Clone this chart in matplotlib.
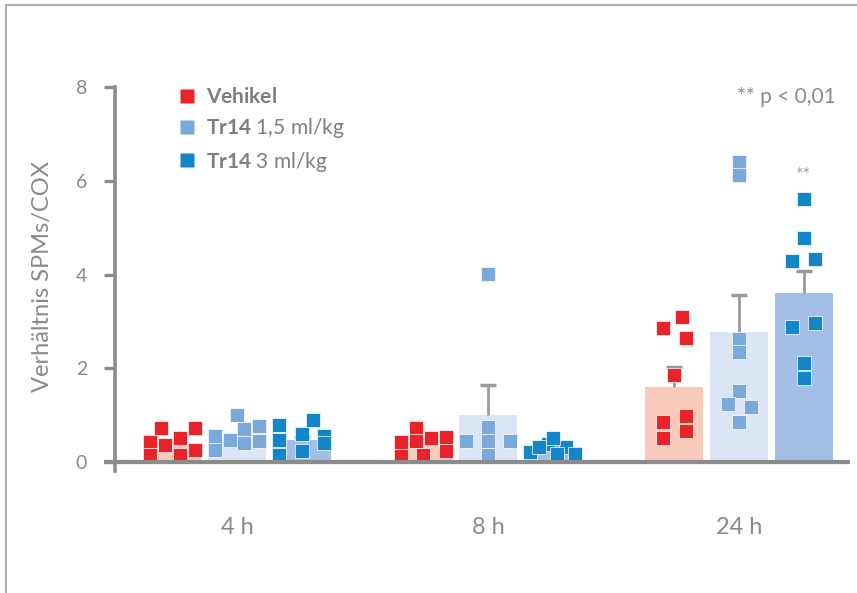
import matplotlib
matplotlib.use("Agg")
import matplotlib.pyplot as plt
import numpy as np
from matplotlib.lines import Line2D

plt.rcParams['font.family'] = ['Lato', 'DejaVu Sans']
plt.rcParams['mathtext.fontset'] = 'custom'
plt.rcParams['mathtext.rm'] = 'Lato'
plt.rcParams['mathtext.bf'] = 'Lato:bold'

# ---------------- data ----------------
timepoints = ["4 h", "8 h", "24 h"]
series_names = ["Vehikel", "Tr14 1,5 ml/kg", "Tr14 3 ml/kg"]
legend_labels = [r"$\bf{Vehikel}$", r"$\bf{Tr14}$ 1,5 ml/kg", r"$\bf{Tr14}$ 3 ml/kg"]

means_vehikel = [0.37, 0.46, 1.60]
means_tr14_15 = [0.49, 1.00, 2.77]
means_tr14_3 = [0.47, 0.32, 3.60]

sem_vehikel = [0.06, 0.06, 0.43]
sem_tr14_15 = [0.08, 0.64, 0.79]
sem_tr14_3 = [0.07, 0.05, 0.47]

pts_vehikel = [
    [0.72, 0.42, 0.14, 0.36, 0.51, 0.14, 0.72, 0.26],
    [0.72, 0.43, 0.12, 0.44, 0.51, 0.16, 0.53, 0.23],
    [2.86, 3.09, 2.64, 1.85, 0.85, 0.51, 0.98, 0.66],
]
pts_tr14_15 = [
    [0.55, 0.26, 1.00, 0.47, 0.70, 0.40, 0.76, 0.45],
    [4.01, 0.44, 0.75, 0.44, 0.14, 0.44],
    [6.40, 6.12, 2.62, 2.34, 1.51, 1.24, 1.17, 0.85],
]
pts_tr14_3 = [
    [0.78, 0.47, 0.14, 0.89, 0.59, 0.55, 0.24, 0.40],
    [0.22, 0.39, 0.31, 0.52, 0.33, 0.18, 0.18],
    [5.61, 4.78, 4.29, 4.33, 2.88, 2.96, 2.11, 1.79],
]

yticks = [0, 2, 4, 6, 8]
ylabel = "Verhältnis SPMs/COX"
p_note = "** p < 0,01"
sig_mark = "**"

means = [means_vehikel, means_tr14_15, means_tr14_3]
sems = [sem_vehikel, sem_tr14_15, sem_tr14_3]
points = [pts_vehikel, pts_tr14_15, pts_tr14_3]

# ---------------- style ----------------
dot_colors = ["#E8232A", "#79A8DB", "#1386CA"]
bar_colors = ["#F8CABA", "#DCE5F5", "#A4BFE5"]
gray = "#8C8C8C"
text_gray = "#8A8A8A"
err_gray = "#9A9A9A"

W, H, DPI = 857, 593, 100
fig = plt.figure(figsize=(W / DPI, H / DPI), dpi=DPI)

ax_left_px, ax_right_px = 104, 850
ax_top_px, ax_bot_px = 60, 480
ax = fig.add_axes([ax_left_px / W, (H - ax_bot_px) / H,
                   (ax_right_px - ax_left_px) / W, (ax_bot_px - ax_top_px) / H])

px_per_x = 251.0
center0_px = 237.0
y0_px, y8_px = 462.0, 87.0
px_per_y = (y0_px - y8_px) / 8.0

xmin = (ax_left_px - center0_px) / px_per_x
xmax = (ax_right_px - center0_px) / px_per_x
ymin = -(ax_bot_px - y0_px) / px_per_y
ymax = 8 + (y8_px - ax_top_px) / px_per_y
ax.set_xlim(xmin, xmax)
ax.set_ylim(ymin, ymax)

bar_w_px = 58.0
bar_w = bar_w_px / px_per_x
offset = 64.6 / px_per_x
cap_w = 16 / px_per_x
x = np.arange(len(timepoints))

marker_px = 13.5


def swarm_offsets(vals):
    """Prism-like row binning: points within about one marker height share a
    row and are spread symmetrically; collisions fall back to free positions."""
    vals = np.asarray(vals, dtype=float)
    order = np.argsort(vals, kind="stable")
    thr = 12.2 / px_per_y
    bins, cur = [], []
    for i in order:
        if cur and vals[i] - vals[cur[0]] > thr:
            bins.append(sorted(cur))
            cur = []
        cur.append(i)
    if cur:
        bins.append(sorted(cur))
    res = np.zeros(len(vals))
    placed = []

    def collides(c, yp):
        return any(abs(px_ - c) < marker_px - 0.5 and abs(py_ - yp) < marker_px - 1.0
                   for px_, py_ in placed)

    max_half = (bar_w_px - marker_px) / 2
    grid = sorted(set(np.round(np.concatenate([
        np.linspace(-max_half, max_half, n) for n in range(1, 6)]), 2)), key=abs)
    for b in bins:
        n = len(b)
        step = min(23.0, (bar_w_px - marker_px) / max(n - 1, 1))
        slots = [(j - (n - 1) / 2) * step for j in range(n)]
        free = list(slots)
        for i in b:
            yp = vals[i] * px_per_y
            chosen = None
            for c in free:
                if not collides(c, yp):
                    chosen = c
                    break
            if chosen is not None:
                free.remove(chosen)
            else:
                target = free[0] if free else 0.0
                for c in sorted(grid, key=lambda g: abs(g - target)):
                    if not collides(c, yp):
                        chosen = c
                        break
                if chosen is None:
                    chosen = target
                if free:
                    free.pop(0)
            placed.append((chosen, yp))
            res[i] = chosen
    return res


for si in range(3):
    xs = x + (si - 1) * offset
    m = np.array(means[si])
    e = np.array(sems[si])
    ax.bar(xs, m, width=bar_w, color=bar_colors[si], zorder=2, linewidth=0)
    ax.vlines(xs, m, m + e, color=err_gray, linewidth=2, zorder=2.5)
    ax.hlines(m + e, xs - cap_w / 2, xs + cap_w / 2, color=err_gray, linewidth=2.5,
              zorder=2.5)
    for gi in range(3):
        vals = np.array(points[si][gi])
        offs = swarm_offsets(vals) / px_per_x
        ax.plot(xs[gi] + offs, vals, linestyle="none", marker="s",
                markersize=marker_px * 0.72, markerfacecolor=dot_colors[si],
                markeredgecolor="white", markeredgewidth=0.5, zorder=3)

ax.text(x[2] + offset, max(pts_tr14_3[2]) + 0.52, sig_mark, ha="center",
        va="center", fontsize=13, color="#9A9A9A")

for s in ["top", "right", "bottom"]:
    ax.spines[s].set_visible(False)
ax.spines["left"].set_position(("data", (115 - center0_px) / px_per_x))
ax.spines["left"].set_bounds(-0.19, 8)
ax.spines["left"].set_color(gray)
ax.spines["left"].set_linewidth(2.6)
ax.axhline(0, color=gray, linewidth=3, zorder=4)

ax.set_yticks(yticks)
ax.set_yticklabels([str(v) for v in yticks])
ax.tick_params(axis="y", direction="out", length=8, width=2.4, color=gray,
               labelsize=14, labelcolor=text_gray, pad=12)
ax.set_xticks(x)
ax.set_xticklabels(timepoints)
ax.tick_params(axis="x", length=0, labelsize=17, labelcolor=text_gray, pad=27)

fig.text(43 / W, 1 - 276 / H, ylabel, rotation=90, ha="center", va="center",
         fontsize=17, color=text_gray)

fig.text(836 / W, 1 - 97 / H, p_note, ha="right", va="center", fontsize=15,
         color=text_gray)

handles = [Line2D([], [], linestyle="none", marker="s", markersize=10,
                  markerfacecolor=c, markeredgecolor="none") for c in dot_colors]
leg = ax.legend(handles, legend_labels, loc="upper left",
                bbox_to_anchor=((179 - ax_left_px) / (ax_right_px - ax_left_px),
                                1 - (87 - ax_top_px) / (ax_bot_px - ax_top_px)),
                frameon=False, handlelength=0.8, handletextpad=0.5,
                labelspacing=0.45, fontsize=15, labelcolor="#7E7E7E",
                borderaxespad=0, borderpad=0)

fig.add_artist(Line2D([6 / W, 6 / W], [0, 1 - 5 / H], color="#A0A0A0", linewidth=1.2,
                      transform=fig.transFigure))
fig.add_artist(Line2D([6 / W, 1], [1 - 5 / H, 1 - 5 / H], color="#A0A0A0", linewidth=1.2,
                      transform=fig.transFigure))

fig.savefig("out.png", dpi=DPI)
